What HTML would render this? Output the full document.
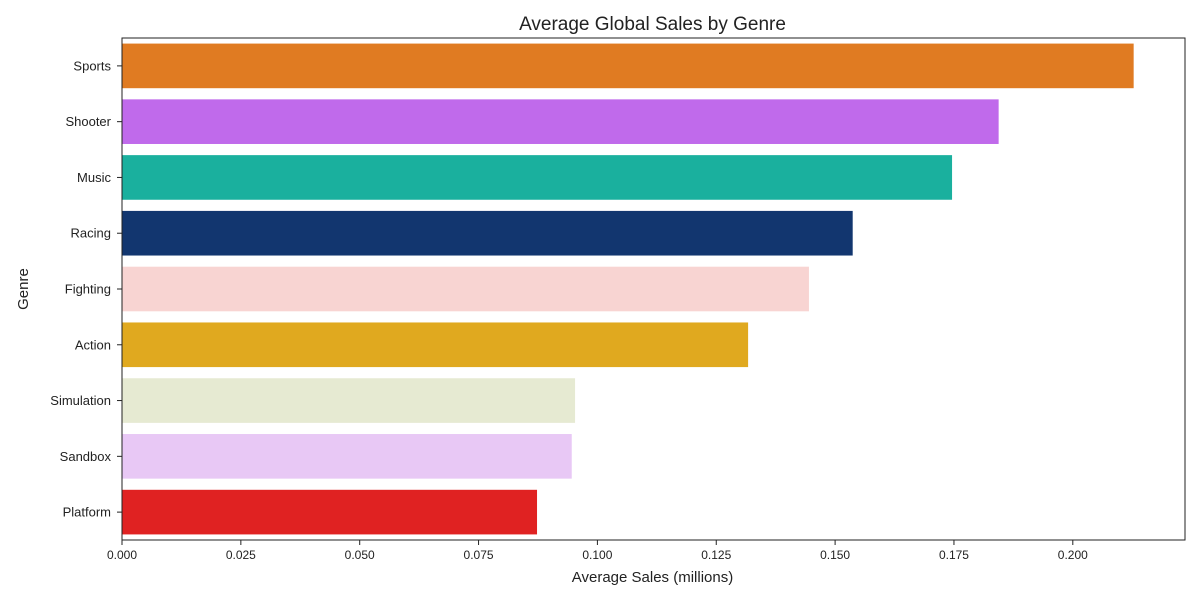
<!DOCTYPE html>
<html><head><meta charset="utf-8"><style>
body{margin:0;background:#fff;}
svg text{font-family:"Liberation Sans",sans-serif;fill:#222;}
</style></head><body>
<svg id="chart" width="1200" height="600"></svg>
<script>
const categories=["Sports","Shooter","Music","Racing","Fighting","Action","Simulation","Sandbox","Platform"];
const values=[0.2128,0.1844,0.1746,0.1537,0.1445,0.1317,0.0953,0.0946,0.0873];
const colors=["#e07b22","#c06aeb","#1ab09e","#12366f","#f8d4d2","#e0a91f","#e6ead2","#e8c8f5","#e02222"];
const ticks=[0,0.025,0.05,0.075,0.1,0.125,0.15,0.175,0.2];
const tickLabels=["0.000","0.025","0.050","0.075","0.100","0.125","0.150","0.175","0.200"];
const NS="http://www.w3.org/2000/svg";
const svg=document.getElementById('chart');
const L=122,R=1185,T=38,B=540,xMax=0.2236;
const x=v=>L+v/xMax*(R-L);
const band=(B-T)/categories.length;
const y=i=>T+i*band;
function mk(tag,attrs,parent){const e=document.createElementNS(NS,tag);for(const k in attrs)e.setAttribute(k,attrs[k]);(parent||svg).appendChild(e);return e;}
categories.forEach((c,i)=>{
  const r=mk('rect',{x:L,y:y(i)+band*0.1,width:x(values[i])-L,height:band*0.8,fill:colors[i]});
  
  
  const t=mk('text',{x:L-11,y:y(i)+band/2+4.5,'text-anchor':'end','font-size':13});
  t.textContent=c;
  
  
  mk('line',{x1:L-5,x2:L,y1:y(i)+band/2,y2:y(i)+band/2,stroke:'#222'});
});
ticks.forEach((v,i)=>{
  mk('line',{x1:x(v),x2:x(v),y1:B,y2:B+5,stroke:'#222'});
  const t=mk('text',{x:x(v),y:B+19,'text-anchor':'middle','font-size':12});
  t.textContent=tickLabels[i];
  
  
});
const f=mk('rect',{x:L,y:T,width:R-L,height:B-T,fill:'none',stroke:'#222','stroke-width':1});


const tt=mk('text',{x:(L+R)/2-1,y:30,'text-anchor':'middle','font-size':19});
tt.textContent='Average Global Sales by Genre';


const xt=mk('text',{x:(L+R)/2-1,y:582,'text-anchor':'middle','font-size':15});
xt.textContent='Average Sales (millions)';


const yt=mk('text',{x:28,y:289,'text-anchor':'middle','font-size':15,transform:'rotate(-90 28 289)'});
yt.textContent='Genre';


</script>
</body></html>
